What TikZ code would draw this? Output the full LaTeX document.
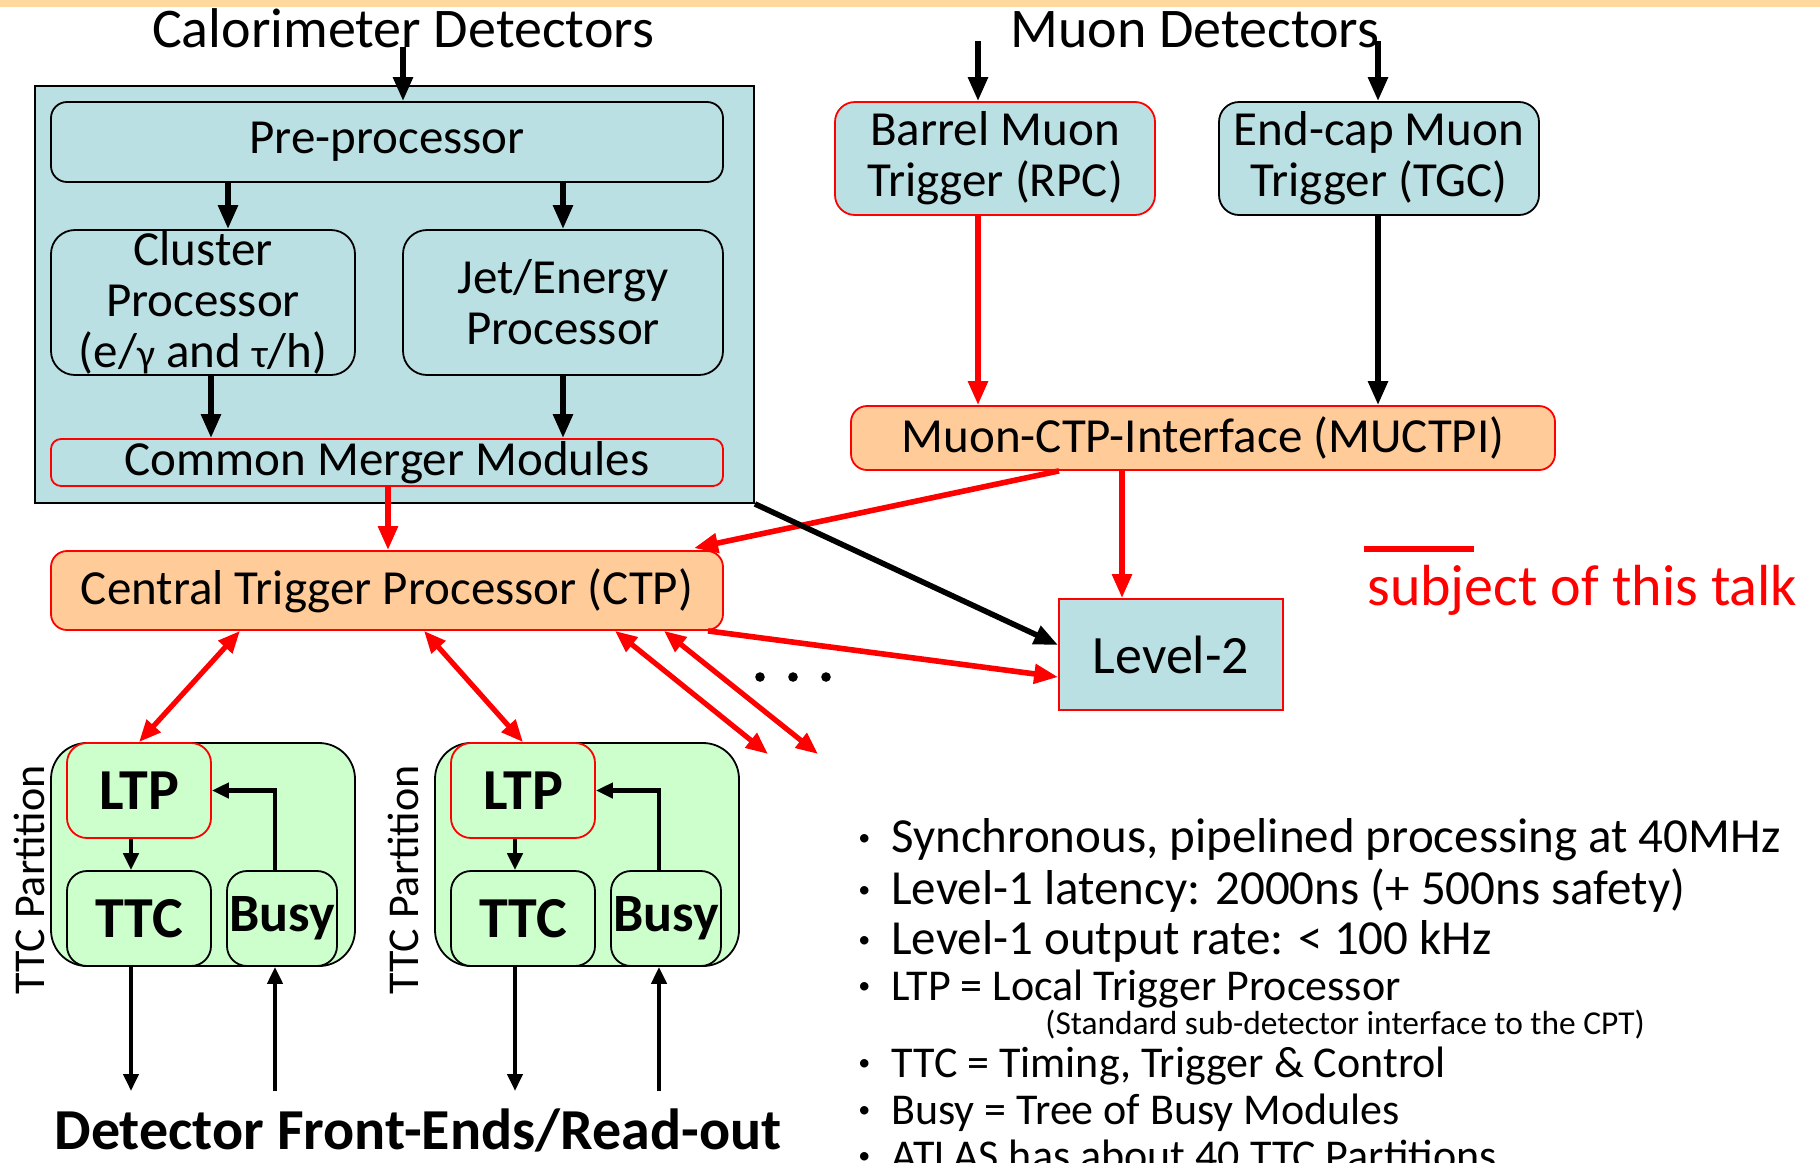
\documentclass[tikz,border=0pt]{standalone}
\usepackage{fontspec}
\setmainfont{Carlito}
\usetikzlibrary{arrows.meta,fit,calc}
\definecolor{cblue}{HTML}{BBE0E3}
\definecolor{corange}{HTML}{FFCC99}
\definecolor{cgreen}{HTML}{CCFFCC}
\definecolor{cband}{HTML}{FFD89E}
\newcommand\myfs[2]{\fontsize{#1}{#2}\selectfont}
\newcommand\mybul{\makebox[16.5pt][l]{\raisebox{3.5pt}{\myfs{12}{12}•}}}
\begin{document}
\begin{tikzpicture}[x=0.5pt,y=-0.5pt,
  box/.style={draw=black, line width=0.9pt, fill=cblue, rounded corners=8pt, inner sep=0pt},
  txt/.style={font=\myfs{24.5}{25.5}, align=center, inner sep=0pt},
  head/.style={font=\myfs{28}{28}, inner sep=0pt},
  btxt/.style={font=\myfs{29}{30}\bfseries, inner sep=0pt},
  bul/.style={inner sep=0pt, anchor=base west},
  barrow/.style={line width=2.8pt, -{Triangle[length=12pt,width=9.5pt]}},
  rarrow/.style={draw=red, line width=2.8pt, -{Triangle[length=12pt,width=9.5pt]}},
  rdarrow/.style={draw=red, line width=2.6pt, {Triangle[length=11pt,width=9pt]}-{Triangle[length=11pt,width=9pt]}},
  sarrow/.style={line width=2.2pt, -{Triangle[length=8.5pt,width=7.5pt]}},
]
\useasboundingbox (0,0) rectangle (1820,1162);
\clip (0,0) rectangle (1820,1162);
\fill[cband] (0,0) rectangle (1820,7);

% ---------- calorimeter part
\node[head, anchor=base] (calt) at (403,47) {Calorimeter Detectors};
\node[box, rounded corners=0pt, fit={(35,86)(754,503)}] (cal) {};
\node[box, fit={(51,102)(723,182)}] (pre) {};
\node[txt] (pret) at (pre.center) {Pre-processor};
\node[box, rounded corners=12pt, fit={(51,230)(355,375)}] (clu) {};
\node[txt] (clut) at (clu.center) {Cluster\\Processor\\(e/{\myfs{20}{20}γ} and {\myfs{20}{20}τ}/h)};
\node[box, rounded corners=12pt, fit={(403,230)(723,375)}] (jet) {};
\node[txt] (jett) at (jet.center) {Jet/Energy\\Processor};
\node[box, draw=red, rounded corners=5pt, fit={(51,439)(723,486)}] (cmm) {};
\node[txt] (cmmt) at (cmm.center) {Common Merger Modules};

\coordinate (xa) at (228,0);
\coordinate (xb) at (563,0);
\coordinate (xc) at (211,0);
\coordinate (xd) at (388,0);
\draw[barrow] (calt.base) -- (calt.base |- pre.north);
\draw[barrow] (pre.south -| xa) -- (clu.north -| xa);
\draw[barrow] (pre.south -| xb) -- (jet.north -| xb);
\draw[barrow] (clu.south -| xc) -- (cmm.north -| xc);
\draw[barrow] (jet.south -| xb) -- (cmm.north -| xb);

% ---------- muon part
\node[head, anchor=base] (muont) at (1195,47) {Muon Detectors};
\node[box, draw=red, rounded corners=10pt, fit={(835,102)(1155,215)}] (bar) {};
\node[txt] (bart) at (bar.center) {Barrel Muon\\Trigger (RPC)};
\node[box, rounded corners=10pt, fit={(1219,102)(1539,215)}] (endc) {};
\node[txt] (endct) at (endc.center) {End-cap Muon\\Trigger (TGC)};
\node[box, fill=corange, draw=red, fit={(851,406)(1555,470)}] (muc) {};
\node[txt] (muct) at (muc.center) {Muon-CTP-Interface (MUCTPI)};
\coordinate (m1) at (978,41);
\coordinate (m2) at (1378,41);
\draw[barrow] (m1) -- (bar.north -| m1);
\draw[barrow] (m2) -- (endc.north -| m2);
\draw[rarrow] (bar.south -| m1) -- (muc.north -| m1);
\draw[barrow] (endc.south -| m2) -- (muc.north -| m2);

% ---------- CTP and Level-2
\node[box, fill=corange, draw=red, fit={(51,551)(723,630)}] (ctp) {};
\node[txt] (ctpt) at (ctp.center) {Central Trigger Processor (CTP)};
\node[box, rounded corners=0pt, draw=red, fit={(1059,599)(1283,710)}] (l2) {};
\node[font=\myfs{27}{28}, inner sep=0pt] (l2t) at (l2.center) {Level-2};

\coordinate (xe) at (1059,0);
\coordinate (xf) at (694,0);
\coordinate (xg) at (1122,0);
\coordinate (xh) at (708,0);
\coordinate (ya) at (0,645);
\coordinate (yb) at (0,677);
\draw[rarrow] (cmm.south -| xd) -- (ctp.north -| xd);
\draw[rarrow] (muc.south -| xe) -- ([yshift=1pt]ctp.north -| xf);
\draw[rarrow] (muc.south -| xg) -- (l2.north -| xg);
\draw[line width=2.8pt, -{Triangle[length=12pt,width=9.5pt]}] (cal.south east) -- (l2.west |- ya);
\draw[rarrow] (ctp.south -| xh) -- (l2.west |- yb);

% ---------- legend
\coordinate (lg1) at (1364,549);
\coordinate (lg2) at (1474,549);
\draw[red, line width=2.8pt] (lg1) -- (lg2);
\node[font=\myfs{29}{30}, text=red, anchor=base west, inner sep=0pt] (subj) at (1367,605) {subject of this talk};

% ---------- dots
\fill (760,677) circle[radius=2.4pt];
\fill (793,677) circle[radius=2.4pt];
\fill (826,677) circle[radius=2.4pt];

% ---------- TTC partitions
\foreach \dx/\n in {0/a,384/b}{
\begin{scope}[shift={(\dx,0)}]
\node[box, fill=cgreen, rounded corners=18pt, fit={(51,743)(355,966)}] (part\n) {};
\node[box, fill=cgreen, draw=red, rounded corners=10pt, fit={(67,743)(211,838)}] (ltp\n) {};
\node[btxt] (ltpt\n) at (ltp\n.center) {LTP};
\node[box, fill=cgreen, rounded corners=10pt, fit={(67,871)(211,966)}] (ttc\n) {};
\node[btxt] (ttct\n) at (ttc\n.center) {TTC};
\node[box, fill=cgreen, rounded corners=10pt, fit={(227,871)(337,966)}] (busy\n) {};
\node[btxt, font=\myfs{27}{28}\bfseries] (busyt\n) at (busy\n.center) {Busy};
\coordinate (xl\n) at (131,0);
\coordinate (xr\n) at (275,0);
\coordinate (dl\n) at (131,1091);
\coordinate (ul\n) at (275,1091);
\draw[sarrow] (ltp\n.south -| xl\n) -- (ttc\n.north -| xl\n);
\draw[sarrow] (busy\n.north -| xr\n) |- (ltp\n.east);
\draw[sarrow] (ttc\n.south -| xl\n) -- (dl\n);
\draw[sarrow] (ul\n) -- (busy\n.south -| ul\n);
\end{scope}
}
\node[rotate=90, font=\myfs{22}{22}, inner sep=0pt] (tpa) at (29,880) {TTC Partition};
\node[rotate=90, font=\myfs{22}{22}, inner sep=0pt] (tpb) at (403,880) {TTC Partition};

\coordinate (xi) at (240,0);
\coordinate (xj) at (424,0);
\coordinate (xk) at (615,0);
\coordinate (xm) at (664,0);
\coordinate (e3) at (768,754);
\coordinate (e4) at (818,754);
\draw[rdarrow] (ctp.south -| xi) -- (ltpa.north);
\draw[rdarrow] (ctp.south -| xj) -- (ltpb.north);
\draw[rdarrow] (ctp.south -| xk) -- (e3);
\draw[rdarrow] (ctp.south -| xm) -- (e4);

\node[btxt, anchor=base] (dfe) at (418,1149) {Detector Front-Ends/Read-out};

% ---------- bullets
\node[bul, font=\myfs{24.5}{25}] (b1) at (858,852) {\mybul Synchronous, pipelined processing at 40MHz};
\node[bul, font=\myfs{24.5}{25}] (b2) at (858,904) {\mybul Level-1 latency: 2000ns (+ 500ns safety)};
\node[bul, font=\myfs{24.5}{25}] (b3) at (858,954) {\mybul Level-1 output rate: < 100 kHz};
\node[bul, font=\myfs{22}{23}] (b4) at (858,1000) {\mybul LTP = Local Trigger Processor};
\node[bul, font=\myfs{16.7}{17}] (b5) at (1045,1034) {(Standard sub-detector interface to the CPT)};
\node[bul, font=\myfs{22}{23}] (b6) at (858,1077) {\mybul TTC = Timing, Trigger \& Control};
\node[bul, font=\myfs{22}{23}] (b7) at (858,1124) {\mybul Busy = Tree of Busy Modules};
\node[bul, font=\myfs{22}{23}] (b8) at (858,1170) {\mybul ATLAS has about 40 TTC Partitions};
\end{tikzpicture}
\end{document}
